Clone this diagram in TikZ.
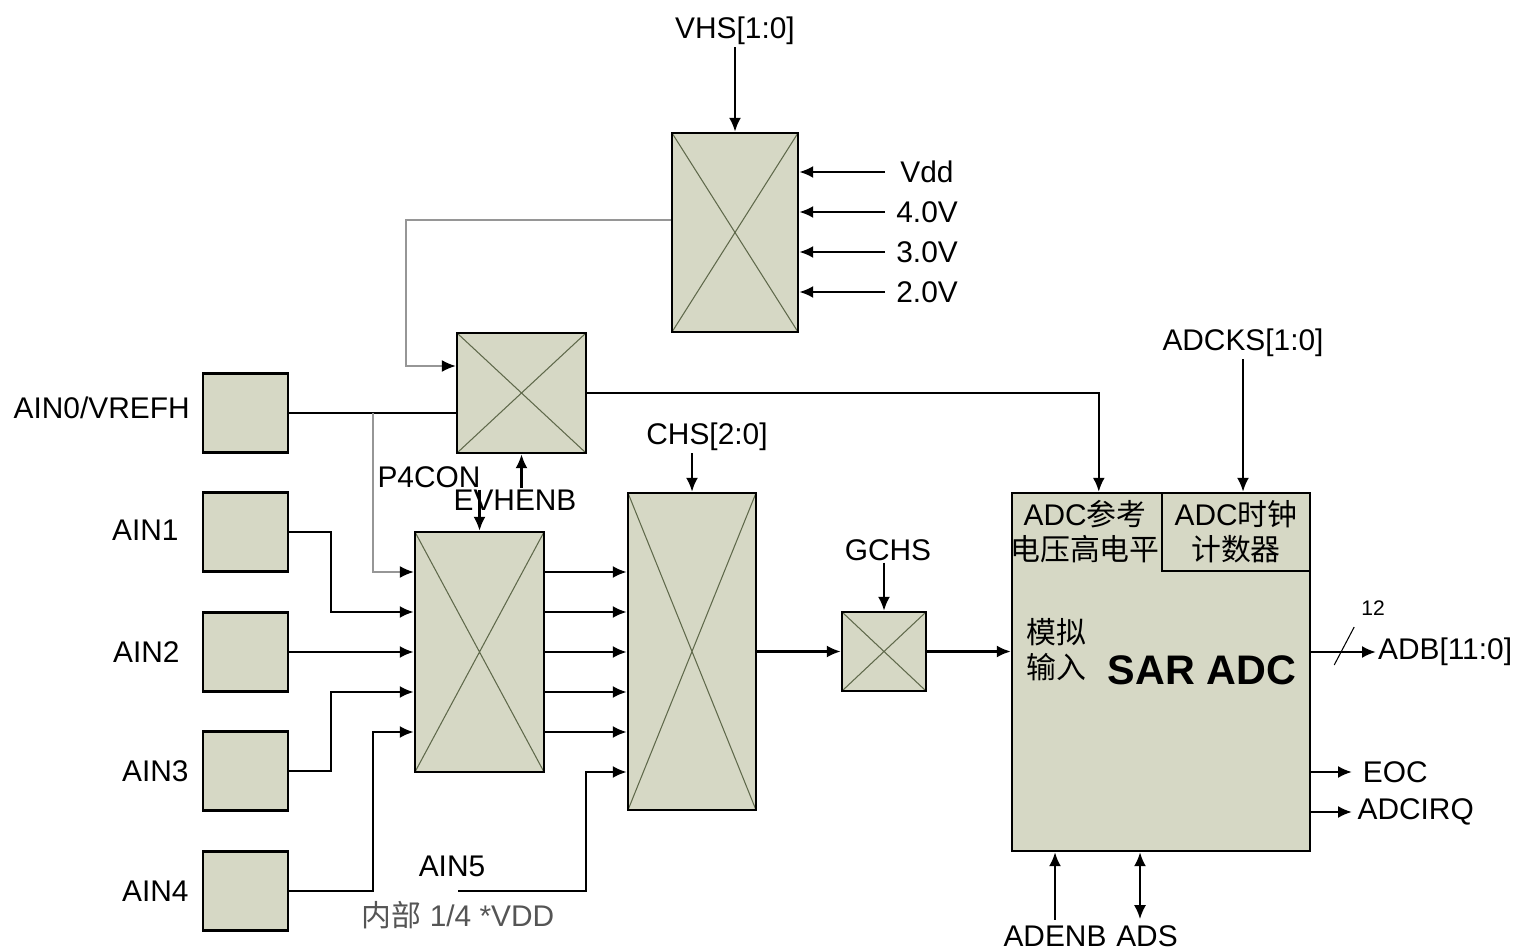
\documentclass[tikz,border=0pt]{standalone}
\usepackage{fontspec}
\setmainfont{Liberation Sans}
\newfontfamily\cjk{Noto Sans CJK SC}
\usepackage{xcolor}
\usepackage{tikz}
\usetikzlibrary{arrows.meta}
\usetikzlibrary{positioning}
\usetikzlibrary{calc}

\definecolor{muxfill}{RGB}{214,216,197}
\definecolor{xline}{RGB}{95,105,75}
\definecolor{feedcol}{RGB}{150,150,150}
\definecolor{softtext}{RGB}{85,85,85}

\begin{document}
\begin{tikzpicture}[
  x=0.02cm, y=-0.02cm,
  font=\fontsize{17}{20}\selectfont,
  mux/.style={
    draw,
    fill=muxfill,
    line width=1.4pt,
    inner sep=0pt,
    path picture={
      \draw[xline, line width=0.6pt]
        (path picture bounding box.north west) -- (path picture bounding box.south east)
        (path picture bounding box.north east) -- (path picture bounding box.south west);
    }
  },
  pin/.style={
    draw,
    fill=muxfill,
    line width=1.4pt,
    minimum width=1.7cm,
    minimum height=1.58cm
  },
  tag/.style={inner sep=1pt},
  arrow/.style={-{Latex[length=2.8mm,width=2.4mm]}, line width=1.3pt},
  wire/.style={line width=1.3pt},
  feed/.style={draw=feedcol, line width=0.9pt, -{Latex[length=2.8mm,width=2.4mm,color=black]}}
]
\useasboundingbox (0,0) rectangle (1518,952);

% rows of the channel muxes
\coordinate (row1) at (0,572);
\coordinate (row2) at (0,612);
\coordinate (row3) at (0,652);
\coordinate (row4) at (0,692);
\coordinate (row5) at (0,732);
\coordinate (row6) at (0,772);

% reference voltage select
\node[mux, minimum width=2.52cm, minimum height=3.98cm] (vmux) at (735,232.5) {};
\node[tag] (vhs) at (735,31) {VHS[1:0]};
\draw[arrow] (vhs.south) -- (vmux.north);

\node[anchor=west, inner sep=0.3cm] (vdd) at (885,172) {Vdd};
\node[anchor=west, inner sep=0.22cm] (v4) at (885,212) {4.0V};
\node[anchor=west, inner sep=0.22cm] (v3) at (885,252) {3.0V};
\node[anchor=west, inner sep=0.22cm] (v2) at (885,292) {2.0V};
\draw[arrow] (vdd.west) -- (vmux.east |- vdd.west);
\draw[arrow] (v4.west) -- (vmux.east |- v4.west);
\draw[arrow] (v3.west) -- (vmux.east |- v3.west);
\draw[arrow] (v2.west) -- (vmux.east |- v2.west);

% external / internal reference mux
\node[mux, minimum width=2.58cm, minimum height=2.4cm] (emux) at (521.5,393) {};
\draw[feed] (vmux.west |- 0,220) -| ($(emux.west)+(-50,-27)$) -- ($(emux.west)+(0,-27)$);

% analog pins
\node[pin] (ain0box) at (245.5,413) {};
\node[pin] (ain1box) at (245.5,532) {};
\node[pin] (ain2box) at (245.5,652) {};
\node[pin] (ain3box) at (245.5,771) {};
\node[pin] (ain4box) at (245.5,891) {};
\node[left=0.12cm of ain0box, yshift=0.1cm] (ain0) {AIN0/VREFH};
\node[left=0.34cm of ain1box, yshift=0.04cm] (ain1) {AIN1};
\node[left=0.32cm of ain2box] (ain2) {AIN2};
\node[left=0.14cm of ain3box] (ain3) {AIN3};
\node[left=0.14cm of ain4box] (ain4) {AIN4};

\draw[wire] (ain0box.east) -- (emux.west |- ain0box.east);

% pin mux
\node[mux, minimum width=2.58cm, minimum height=4.8cm] (pmux) at (479.5,652) {};
\node[tag] (p4con) at (429,477) {P4CON};
\node[tag] (evhenb) at (515,500) {EVHENB};
\draw[arrow] (pmux.north |- p4con.south) -- (pmux.north);
\draw[arrow] (emux.south |- evhenb.north) -- (emux.south);

\draw[feed] ($(ain0box.east)+(84,0)$) |- (pmux.west |- row1);
\draw[arrow] (ain1box.east) -- ++(42,0) |- (pmux.west |- row2);
\draw[arrow] (ain2box.east) -- (pmux.west |- row3);
\draw[arrow] (ain3box.east) -- ++(42,0) |- (pmux.west |- row4);
\draw[arrow] (ain4box.east) -- ++(84,0) |- (pmux.west |- row5);

% channel select
\node[mux, minimum width=2.56cm, minimum height=6.34cm] (cmux) at (692,651.5) {};
\node[tag] (chs) at (707,437) {CHS[2:0]};
\draw[arrow] (chs.south -| cmux.north) -- (cmux.north);

\draw[arrow] (pmux.east |- row1) -- (cmux.west |- row1);
\draw[arrow] (pmux.east |- row2) -- (cmux.west |- row2);
\draw[arrow] (pmux.east |- row3) -- (cmux.west |- row3);
\draw[arrow] (pmux.east |- row4) -- (cmux.west |- row4);
\draw[arrow] (pmux.east |- row5) -- (cmux.west |- row5);

\node (ain5) at (452,866) {AIN5};
\node[text=softtext] (quarter) at (458,915) {{\cjk 内部} 1/4 *VDD};
\coordinate (ain5in) at (458,891);
\draw[arrow] (ain5in) -- ++(128,0) |- (cmux.west |- row6);

% global channel select
\node[mux, minimum width=1.68cm, minimum height=1.58cm] (gmux) at (884,651.5) {};
\node[tag] (gchs) at (888,550) {GCHS};
\draw[arrow] (gchs.south -| gmux.north) -- (gmux.north);
\draw[arrow] (cmux.east) -- (gmux.west);

% converter
\node[draw, fill=muxfill, line width=1.4pt, minimum width=5.96cm, minimum height=7.16cm] (sar) at (1161,672) {};
\node[draw, fill=muxfill, line width=1.4pt, minimum width=2.96cm, minimum height=1.56cm, anchor=north east] (clk) at (sar.north east) {};
\node[align=center] (clktxt) at (clk.center) {ADC{\cjk 时钟}\\{\cjk 计数器}};
\node[align=center] (vref) at (1085,532) {ADC{\cjk 参考}\\{\cjk 电压高电平}};
\node[align=left] (anin) at (1056,650) {{\cjk 模拟}\\{\cjk 输入}};
\node[font=\bfseries\fontsize{23.5}{28}\selectfont] (sartxt) at (1202,670) {SAR ADC};

\draw[arrow] (gmux.east) -- (sar.west |- gmux.east);
\draw[arrow] (emux.east) -| ($(sar.north west)+(88,0)$);

\node[tag] (adcks) at (1243,343) {ADCKS[1:0]};
\draw[arrow] (adcks.south) -- (adcks.south |- clk.north);

% outputs
\node[anchor=west, inner sep=1pt] (adb) at (1376,652) {ADB[11:0]};
\draw[arrow] (sar.east |- adb.west) -- (adb.west);
\draw[line width=0.6pt] ($(sar.east |- adb.west)+(23,13)$) -- ++(20,-38);
\node[font=\fontsize{12}{14}\selectfont] (bits) at (1373,608) {12};

\node[anchor=west, inner sep=6pt] (eoc) at (1352,772) {EOC};
\node[anchor=west, inner sep=3pt] (irq) at (1352,812) {ADCIRQ};
\draw[arrow] (sar.east |- eoc.west) -- (eoc.west);
\draw[arrow] (sar.east |- irq.west) -- (irq.west);

% enable and start
\node (adenb) at (1055,936) {ADENB};
\node (ads) at (1147,936) {ADS};
\draw[arrow] (adenb.north) -- (adenb.north |- sar.south);
\draw[{Latex[length=2.8mm,width=2.4mm]}-{Latex[length=2.8mm,width=2.4mm]}, line width=1.3pt]
  ($(sar.south -| ads.north)+(-7,0)$) -- ($(ads.north)+(-7,0)$);

\end{tikzpicture}
\end{document}
